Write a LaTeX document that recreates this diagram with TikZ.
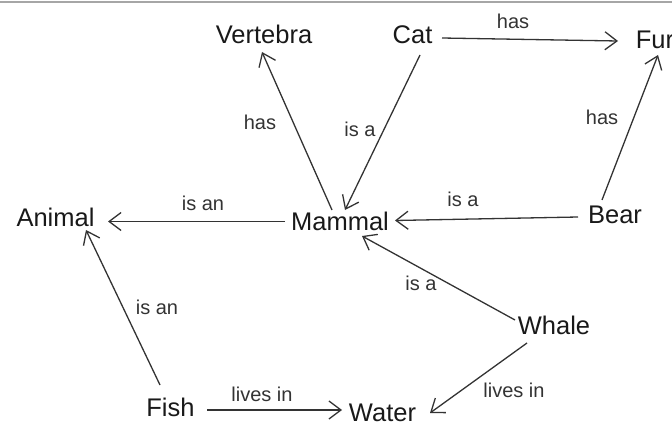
\documentclass[tikz,border=0pt]{standalone}
\usepackage{fontspec}
\setmainfont{Liberation Sans}
\usetikzlibrary{arrows.meta}
\begin{document}
\begin{tikzpicture}[x=1pt,y=-1pt,
  concept/.style={font=\fontsize{25.5}{25.5}\selectfont, text=black!90, inner sep=0pt, text height=18pt, text depth=0pt},
  lbl/.style={font=\fontsize{20}{20}\selectfont, text=black!80, inner sep=0pt, text height=14pt, text depth=0pt},
  rel/.style={draw=black!80, line width=1.3pt, -{Straight Barb[length=12pt,width=18pt,line width=1.3pt]}}]
\useasboundingbox (0,0) rectangle (672,425);
\draw[black!35, line width=2pt] (0,2.5) -- (672,2.5);
% concepts
\node[concept] (vert) at (264,35) {Vertebra};
\node[concept] (cat) at (412.5,35) {Cat};
\node[concept] (fur) at (655,40) {Fur};
\node[concept] (animal) at (55.5,217.5) {Animal};
\node[concept] (mammal) at (340,221.5) {Mammal};
\node[concept] (bear) at (615,214) {Bear};
\node[concept] (whale) at (554,325) {Whale};
\node[concept] (fish) at (170.5,407) {Fish};
\node[concept] (water) at (382.5,412) {Water};
% relations
\draw[rel] ([shift={(29.5,3)}]cat.center) -- ([shift={(-37,1)}]fur.center);
\draw[rel] ([shift={(-8,-11.5)}]mammal.center) -- ([shift={(-2,17)}]vert.center);
\draw[rel] ([shift={(7.5,20)}]cat.center) -- ([shift={(5,-11.5)}]mammal.center);
\draw[rel] ([shift={(-13,-14)}]bear.center) -- ([shift={(3,15)}]fur.center);
\draw[rel] ([shift={(-55,0)}]mammal.center) -- ([shift={(52.5,4)}]animal.center);
\draw[rel] ([shift={(-37,3)}]bear.center) -- ([shift={(55,-1)}]mammal.center);
\draw[rel] ([shift={(-39,-5)}]whale.center) -- ([shift={(22,14.5)}]mammal.center);
\draw[rel] ([shift={(-10.5,-22)}]fish.center) -- ([shift={(30.5,12.5)}]animal.center);
\draw[rel] ([shift={(36.5,3)}]fish.center) -- ([shift={(-40.5,-2)}]water.center);
\draw[rel] ([shift={(-27,18)}]whale.center) -- ([shift={(47.5,1)}]water.center);
% labels
\node[lbl] (l1) at (513,22) {has};
\node[lbl] (l2) at (260,123) {has};
\node[lbl] (l3) at (360,130) {is a};
\node[lbl] (l4) at (602,118) {has};
\node[lbl] (l5) at (203,203) {is an};
\node[lbl] (l6) at (463,199) {is a};
\node[lbl] (l7) at (421,283) {is a};
\node[lbl] (l8) at (157,307) {is an};
\node[lbl] (l9) at (262,394) {lives in};
\node[lbl] (l10) at (514,390) {lives in};
\end{tikzpicture}
\end{document}
